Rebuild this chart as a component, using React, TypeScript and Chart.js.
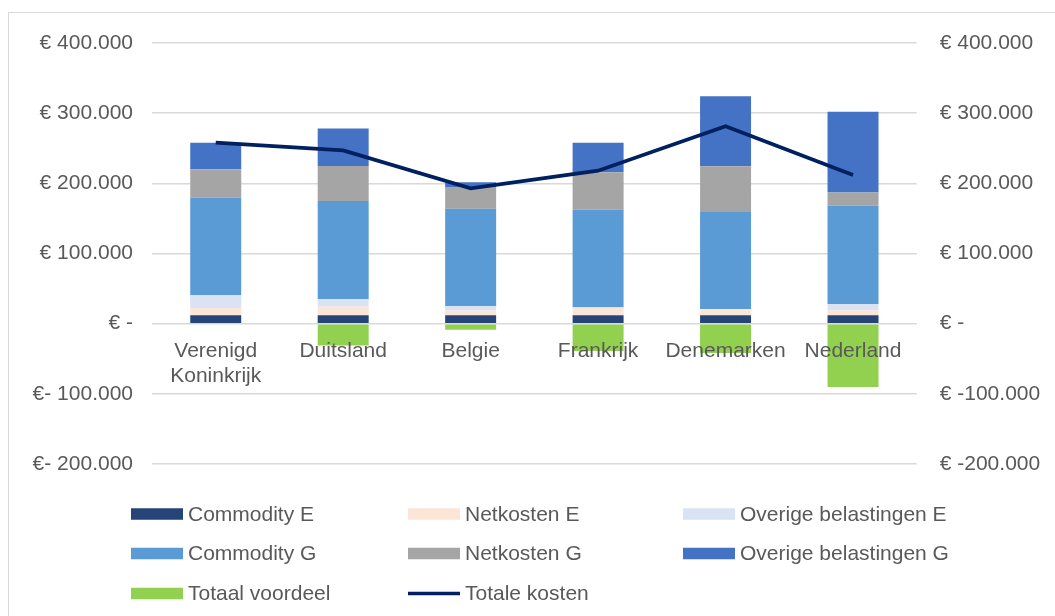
import React, { useEffect, useRef } from 'react';
import { Chart, registerables } from 'chart.js';

Chart.register(...registerables);

const categories: (string | string[])[] = [
  ['Verenigd', 'Koninkrijk'],
  'Duitsland',
  'Belgie',
  'Frankrijk',
  'Denemarken',
  'Nederland',
];

const commodityE = [12000, 12000, 12000, 12000, 12000, 12000];
const netkostenE = [10500, 12000, 6700, 10400, 8200, 7000];
const overigeE = [18000, 11300, 6100, 1000, 600, 9000];
const commodityG = [139000, 139700, 139000, 139400, 139500, 140000];
const netkostenG = [40500, 49800, 30800, 53000, 64000, 19000];
const overigeG = [38000, 53500, 7000, 42000, 99700, 115000];
const totaalVoordeel = [0, -31000, -8500, -39000, -41800, -90300];
const totaleKosten = [258000, 247000, 193000, 218000, 281500, 212000];

const tickValues = [-200000, -100000, 0, 100000, 200000, 300000, 400000];
const leftTickLabels = ['€- 200.000', '€- 100.000', '€ -', '€ 100.000', '€ 200.000', '€ 300.000', '€ 400.000'];
const rightTickLabels = ['€ -200.000', '€ -100.000', '€ -', '€ 100.000', '€ 200.000', '€ 300.000', '€ 400.000'];

const FONT = "'Liberation Sans', Arial, sans-serif";
const TEXT = '#595959';

const gridLegend = {
  id: 'gridLegend',
  afterDraw(chart: any) {
    const ctx = chart.ctx as CanvasRenderingContext2D;
    const cols = [122, 399, 674];
    const rows = [501, 540.5, 580.5];
    const boxW = 52;
    const boxH = 11.5;
    ctx.save();
    ctx.font = `21px ${FONT}`;
    ctx.textBaseline = 'middle';
    ctx.textAlign = 'left';
    chart.data.datasets.forEach((ds: any, i: number) => {
      const x = cols[i % 3];
      const y = rows[Math.floor(i / 3)];
      if (ds.type === 'line') {
        ctx.strokeStyle = ds.borderColor;
        ctx.lineWidth = 3.5;
        ctx.beginPath();
        ctx.moveTo(x, y);
        ctx.lineTo(x + boxW, y);
        ctx.stroke();
      } else {
        ctx.fillStyle = ds.backgroundColor;
        ctx.fillRect(x, y - boxH / 2, boxW, boxH);
      }
      ctx.fillStyle = TEXT;
      ctx.fillText(ds.label, x + boxW + 5, y + 1);
    });
    ctx.restore();
  },
};

export default function App() {
  const ref = useRef<HTMLCanvasElement>(null);

  useEffect(() => {
    document.documentElement.style.overflow = 'hidden';
    const barDs = (label: string, data: number[], color: string) => ({
      type: 'bar' as const,
      label,
      data,
      backgroundColor: color,
      borderWidth: 0,
      barPercentage: 0.4,
      categoryPercentage: 1.0,
      yAxisID: 'y',
      order: 1,
    });
    const chart = new Chart(ref.current as HTMLCanvasElement, {
      type: 'bar',
      data: {
        labels: categories as any,
        datasets: [
          barDs('Commodity E', commodityE, '#264478'),
          barDs('Netkosten E', netkostenE, '#FBE5D6'),
          barDs('Overige belastingen E', overigeE, '#DAE3F3'),
          barDs('Commodity G', commodityG, '#5B9BD5'),
          barDs('Netkosten G', netkostenG, '#A5A5A5'),
          barDs('Overige belastingen G', overigeG, '#4472C4'),
          barDs('Totaal voordeel', totaalVoordeel, '#92D050'),
          {
            type: 'line' as const,
            label: 'Totale kosten',
            data: totaleKosten,
            borderColor: '#002060',
            backgroundColor: '#002060',
            borderWidth: 3.75,
            pointRadius: 0,
            tension: 0,
            yAxisID: 'y1',
            order: 0,
          } as any,
        ],
      },
      options: {
        animation: false,
        responsive: false,
        layout: { padding: { top: 30, bottom: 152, left: 0, right: 0 } },
        plugins: {
          legend: { display: false },
          tooltip: { enabled: false },
        },
        scales: {
          x: {
            stacked: true,
            position: { y: 0 } as any,
            grid: { display: false },
            border: { display: false },
            ticks: {
              z: 1,
              color: TEXT,
              font: { family: FONT, size: 21 },
              padding: 7,
              maxRotation: 0,
              autoSkip: false,
            },
          } as any,
          y: {
            stacked: true,
            position: 'left',
            min: -200000,
            max: 400000,
            afterBuildTicks: (s: any) => {
              s.ticks = tickValues.map((v) => ({ value: v }));
            },
            afterFit: (s: any) => {
              s.width = 143;
              s.paddingTop = 0;
              s.paddingBottom = 0;
            },
            grid: { color: '#d9d9d9', lineWidth: 1.5, drawTicks: false },
            border: { display: false },
            ticks: {
              color: TEXT,
              font: { family: FONT, size: 21 },
              padding: 19,
              callback: (v: any) => leftTickLabels[tickValues.indexOf(Number(v))],
            },
          },
          y1: {
            position: 'right',
            display: true,
            min: -200000,
            max: 400000,
            afterBuildTicks: (s: any) => {
              s.ticks = tickValues.map((v) => ({ value: v }));
            },
            afterFit: (s: any) => {
              s.width = 138.25;
              s.paddingTop = 0;
              s.paddingBottom = 0;
            },
            grid: { display: false, drawTicks: false },
            border: { display: false },
            ticks: {
              color: TEXT,
              font: { family: FONT, size: 21 },
              padding: 23,
              callback: (v: any) => rightTickLabels[tickValues.indexOf(Number(v))],
            },
          },
        },
      },
      plugins: [gridLegend],
    });
    return () => chart.destroy();
  }, []);

  return (
    <div
      style={{
        position: 'absolute',
        left: 8,
        top: 12,
        width: 1047,
        height: 604,
        boxSizing: 'border-box',
        borderTop: '1px solid #d9d9d9',
        borderLeft: '1px solid #d9d9d9',
        background: '#ffffff',
      }}
    >
      <canvas ref={ref} width={1046} height={603} style={{ display: 'block' }} />
    </div>
  );
}
